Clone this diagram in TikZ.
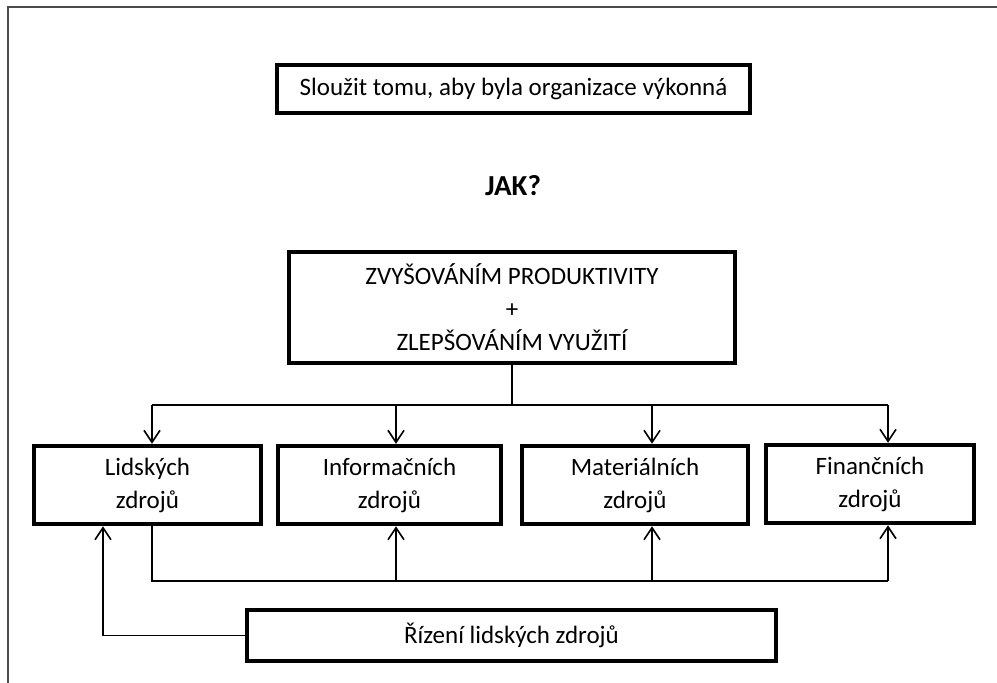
\documentclass[tikz,border=0pt]{standalone}
\usepackage{fontspec}
\setmainfont{Carlito}
\usetikzlibrary{arrows.meta}
\begin{document}
\begin{tikzpicture}[x=1pt,y=-1pt,
  box/.style={draw, line width=4.5pt, rectangle, inner sep=0pt, align=center,
    font=\fontsize{25}{33}\selectfont},
  conn/.style={line width=1.6pt},
  arr/.style={conn, -{Straight Barb[length=12pt,width=16pt]}}]
\useasboundingbox (0,0) rectangle (997,683);
% page frame
\draw[line width=2pt, black!70] (8,683) -- (8,7) -- (997,7);

% goal
\node[box, minimum width=473pt, minimum height=48pt] (goal) at (513.5,89)
  {Sloužit tomu, aby byla organizace výkonná};
\node[font=\bfseries\fontsize{29}{29}\selectfont] (jak) at (513,186) {JAK?};

% means
\node[box, minimum width=446pt, minimum height=111pt] (main) at (512,307.5)
  {ZVYŠOVÁNÍM PRODUKTIVITY\\+\\ZLEPŠOVÁNÍM VYUŽITÍ};

% resources
\node[box, minimum width=227pt, minimum height=78pt] (b1) at (147.5,485) {Lidských\\zdrojů};
\node[box, minimum width=223pt, minimum height=78pt] (b2) at (389.5,485) {Informačních\\zdrojů};
\node[box, minimum width=226pt, minimum height=78pt] (b3) at (635,485) {Materiálních\\zdrojů};
\node[box, minimum width=208pt, minimum height=78pt] (b4) at (870,484) {Finančních\\zdrojů};

% HR management
\node[box, minimum width=529pt, minimum height=51pt] (hr) at (511.5,635.5) {Řízení lidských zdrojů};

% distribution rail above the resources
\coordinate (c1) at (152,405);
\coordinate (c2) at (396,405);
\coordinate (c3) at (652,405);
\coordinate (c4) at (888,405);
\draw[conn] (main.south) -- (main.south |- c1);
\draw[conn] (c1) -- (c4);
\foreach \i in {1,...,4} \draw[arr] (c\i) -- (c\i |- b\i.north);

% feedback rail below the resources
\coordinate (d1) at (152,581);
\coordinate (d2) at (396,581);
\coordinate (d3) at (652,581);
\coordinate (d4) at (888,581);
\draw[conn] (b1.south -| d1) -- (d1) -- (d4);
\foreach \i in {2,3,4} \draw[arr] (d\i) -- (d\i |- b\i.south);

% HR management back to human resources
\coordinate (e) at (103,636);
\draw[arr] (hr.west) -- (hr.west -| e) -- (e |- b1.south);
\end{tikzpicture}
\end{document}
